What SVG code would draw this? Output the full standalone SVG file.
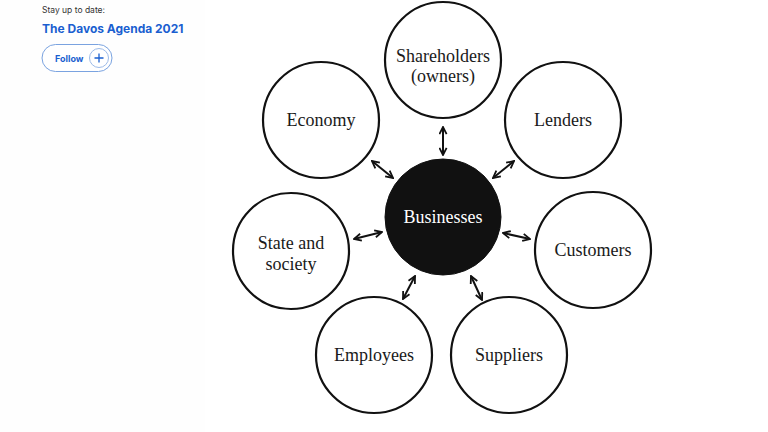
<svg xmlns="http://www.w3.org/2000/svg" width="768" height="432" viewBox="0 0 768 432">
<defs>
<style>
.c{fill:#fff;stroke:#111;stroke-width:2.2}
.t{font-family:"Liberation Serif","Times New Roman",serif;font-size:18px;fill:#1a1a1a;text-anchor:middle}
.a{stroke:#111;stroke-width:2;fill:none;marker-start:url(#h);marker-end:url(#h)}
</style>
<marker id="h" viewBox="0 0 10 10" refX="9" refY="5" markerWidth="4.5" markerHeight="4.5" orient="auto-start-reverse" markerUnits="strokeWidth">
<path d="M1,1 L9,5 L1,9" fill="none" stroke="#111" stroke-width="2"/>
</marker>
</defs>
<rect width="768" height="432" fill="#fff"/>
<rect x="0" y="0" width="205" height="432" fill="#fefefe"/>
<g id="header">
<text x="42" y="13" font-family="Inter,'Liberation Sans',sans-serif" font-size="8.5" fill="#333">Stay up to date:</text>
<text x="42" y="33" font-family="Inter,'Liberation Sans',sans-serif" font-size="12" font-weight="bold" fill="#1a5fd0">The Davos Agenda 2021</text>
<rect x="42" y="44.5" width="70" height="27" rx="13.5" fill="#fff" stroke="#7aa3e0" stroke-width="1"/>
<text x="55" y="62" font-family="Inter,'Liberation Sans',sans-serif" font-size="9" font-weight="bold" fill="#1a5fd0">Follow</text>
<circle cx="99" cy="58" r="9.5" fill="#fff" stroke="#9dbbe8" stroke-width="1"/>
<path d="M99,53.5 V62.5 M94.5,58 H103.5" stroke="#1a5fd0" stroke-width="1.3"/>
</g>
<g id="connectors">
<line class="a" x1="443" y1="127" x2="443" y2="155"/>
<line class="a" x1="372" y1="161" x2="393" y2="178"/>
<line class="a" x1="514" y1="161" x2="493" y2="178"/>
<line class="a" x1="354" y1="239" x2="382" y2="232"/>
<line class="a" x1="503" y1="233" x2="530" y2="239"/>
<line class="a" x1="415" y1="276" x2="403" y2="299"/>
<line class="a" x1="471" y1="276" x2="482" y2="300"/>
</g>
<g id="shareholders"><circle class="c" cx="443" cy="60" r="58"/><text class="t" x="443" y="62">Shareholders</text><text class="t" x="443" y="82">(owners)</text></g>
<g id="economy"><circle class="c" cx="321" cy="120" r="58"/><text class="t" x="321" y="126">Economy</text></g>
<g id="lenders"><circle class="c" cx="563" cy="120" r="58"/><text class="t" x="563" y="126">Lenders</text></g>
<g id="state"><circle class="c" cx="291" cy="251" r="58"/><text class="t" x="291" y="249">State and</text><text class="t" x="291" y="270">society</text></g>
<g id="customers"><circle class="c" cx="593" cy="250" r="58"/><text class="t" x="593" y="256">Customers</text></g>
<g id="employees"><circle class="c" cx="374" cy="355" r="58"/><text class="t" x="374" y="361">Employees</text></g>
<g id="suppliers"><circle class="c" cx="509" cy="355" r="58"/><text class="t" x="509" y="361">Suppliers</text></g>
<g id="businesses"><circle cx="443" cy="217" r="58" fill="#111" stroke="#111" stroke-width="1"/><text class="t" x="443" y="223" style="fill:#fff">Businesses</text></g>
</svg>
